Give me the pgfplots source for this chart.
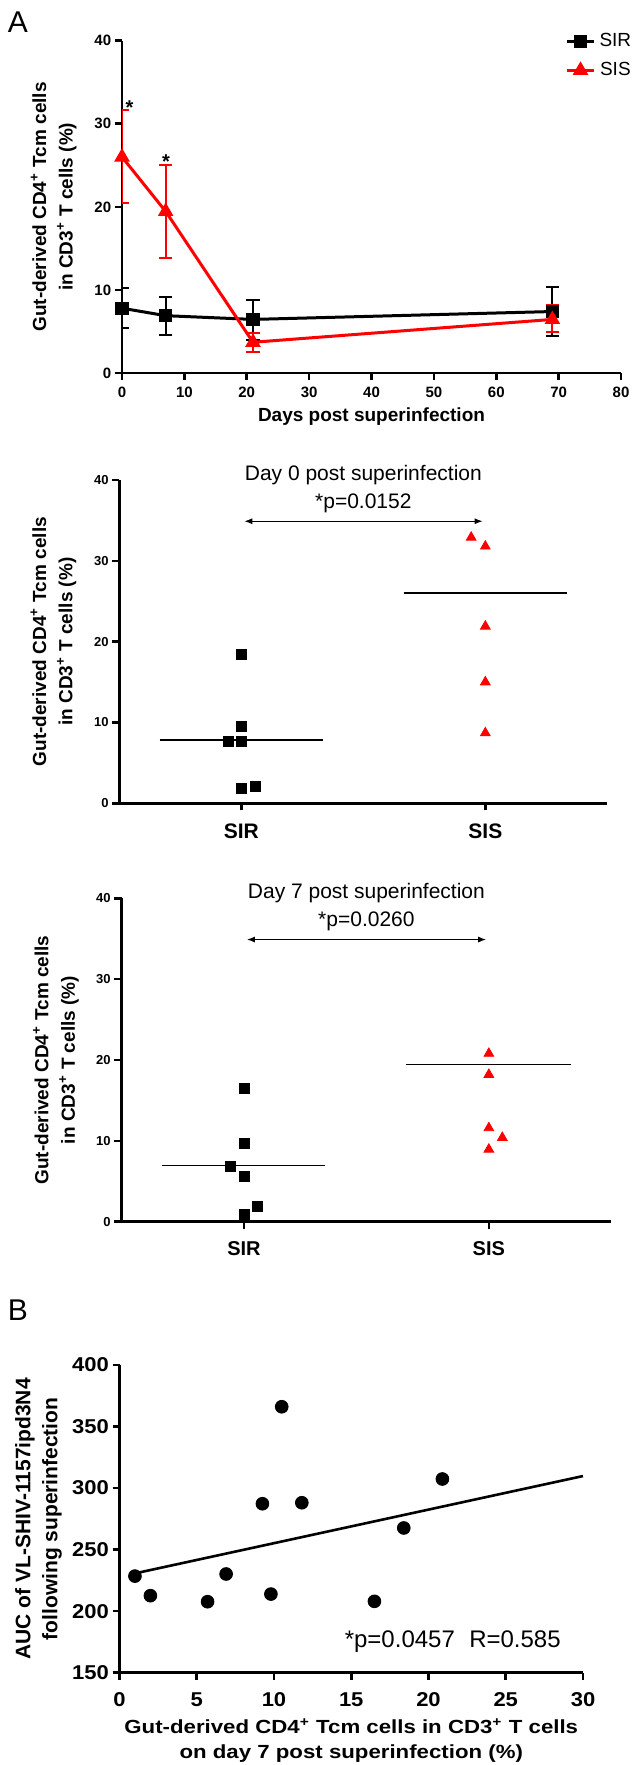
\documentclass[border=0pt]{standalone}
\usepackage{fontspec}
\setmainfont{Liberation Sans}
\usepackage{pgfplots}
\pgfplotsset{compat=1.18}
\usepackage{pgfplotstable}
\usetikzlibrary{arrows.meta}
\definecolor{sisred}{RGB}{255,0,0}

% panel A: mean with error bars (x, y, +err, -err)
\pgfplotstableread{
x  y     ep    em
0  7.8   2.4   2.4
7  6.9   2.3   2.3
21 6.45  2.35  2.45
69 7.4   3.0   2.95
}\sirtime
\pgfplotstableread{
x  y     ep    em
0  26.0  5.6   5.5
7  19.45 5.6   5.65
21 3.7   1.1   1.2
69 6.45  1.7   1.55
}\sistime

\pgfplotsset{
  prism/.style={
    scale only axis, anchor=south west,
    axis lines=left, axis line style={-, line width=1.3pt},
    every outer x axis line/.append style={-},
    every outer y axis line/.append style={-},
    tick align=outside, major tick length=3.5pt,
    tick style={line width=1.3pt, black},
    /pgf/number format/assume math mode=true,
    ticklabel style={font=\bfseries\fontsize{7.5}{7.5}\selectfont},
    yticklabel style={xshift=1.6pt},
    ylabel style={align=center, anchor=center,
                  font=\bfseries\fontsize{9.5}{13.2}\selectfont},
  },
  arr/.style={black, line width=0.6pt,
              {Latex[length=4pt,width=3pt]}-{Latex[length=4pt,width=3pt]}},
}

\begin{document}
\begin{tikzpicture}
\useasboundingbox (0,0) rectangle (317.5pt,-882.5pt);
\node[font=\fontsize{15}{15}\selectfont] at (9pt,-11pt) {A};
\node[font=\fontsize{15}{15}\selectfont] at (9pt,-655pt) {B};

% ---- A: time course
\begin{axis}[prism, at={(61pt,-186.5pt)}, width=249.5pt, height=166.15pt,
  xmin=0, xmax=80, ymin=0, ymax=40,
  xtick={0,10,...,80}, ytick={0,10,...,40},
  xticklabel style={anchor=center, yshift=-6.3pt},
  xlabel={Days post superinfection},
  xlabel style={at={(axis description cs:0.5,-0.131)}, anchor=center,
                font=\bfseries\fontsize{9.5}{9.5}\selectfont},
  ylabel={Gut-derived CD4\textsuperscript{+} Tcm cells\\in CD3\textsuperscript{+} T cells (\%)},
  ylabel style={at={(axis description cs:-0.137,0.5)}},
  legend style={at={(axis description cs:0.876,1.047)}, anchor=north west,
                draw=none, fill=none, row sep=2.2pt,
                font=\fontsize{9.5}{9.5}\selectfont},
  legend image code/.code={%
    \draw[mark repeat=2,mark phase=2,#1] plot coordinates {(0pt,0pt) (6.75pt,0pt) (13.5pt,0pt)};},
]
  \addplot[black, line width=1.5pt, mark=square*, mark size=2.6pt,
    error bars/.cd, y dir=both, y explicit,
    error bar style={line width=1pt, black},
    error mark options={rotate=90, mark size=3.3pt, line width=1pt, black}]
    table[x=x, y=y, y error plus=ep, y error minus=em]{\sirtime};
  \addlegendentry{SIR}
  \addplot[sisred, line width=1.5pt, mark=triangle*, mark size=3pt,
    error bars/.cd, y dir=both, y explicit,
    error bar style={line width=1pt, sisred},
    error mark options={rotate=90, mark size=3.3pt, line width=1pt, sisred}]
    table[x=x, y=y, y error plus=ep, y error minus=em]{\sistime};
  \addlegendentry{SIS}
  \node[font=\bfseries\fontsize{10}{10}\selectfont] at (axis cs:1.2,32.0) {*};
  \node[font=\bfseries\fontsize{10}{10}\selectfont] at (axis cs:7.05,25.4) {*};
\end{axis}

% ---- day 0 scatter
\begin{axis}[prism, at={(59.7pt,-401.65pt)}, width=243.95pt, height=161.65pt,
  clip=false, xmin=-0.5, xmax=1.5, ymin=0, ymax=40,
  xtick={0,1}, xticklabels={SIR,SIS}, ytick={0,10,...,40},
  yticklabel style={font=\bfseries\fontsize{6.5}{6.5}\selectfont},
  xticklabel style={anchor=center, yshift=-10.4pt,
                    font=\bfseries\fontsize{10.5}{10.5}\selectfont},
  ylabel={Gut-derived CD4\textsuperscript{+} Tcm cells\\in CD3\textsuperscript{+} T cells (\%)},
  ylabel style={at={(axis description cs:-0.135,0.5)}},
]
  \addplot[only marks, mark=square*, mark size=2.5pt, black] coordinates {
    (0,18.4)(0,9.5)(-0.055,7.7)(0,7.6)(0,1.8)(0.056,2.1)};
  \addplot[only marks, mark=triangle*, mark size=2.8pt, sisred] coordinates {
    (0.942,32.9)(1,31.8)(1,21.9)(1,15.0)(1,8.7)};
  \addplot[black, line width=0.9pt] coordinates {(-0.335,7.85)(0.335,7.85)};
  \addplot[black, line width=0.9pt] coordinates {(0.665,26.05)(1.335,26.05)};
  \addplot[arr] coordinates {(0.012,34.9)(0.989,34.9)};
  \node[font=\fontsize{10.5}{10.5}\selectfont] at (axis cs:0.5,40.6) {Day 0 post superinfection};
  \node[font=\fontsize{10.5}{10.5}\selectfont] at (axis cs:0.5,37.1) {*p=0.0152};
\end{axis}

% ---- day 7 scatter
\begin{axis}[prism, at={(60.75pt,-610.85pt)}, width=244.9pt, height=161.7pt,
  clip=false, xmin=-0.5, xmax=1.5, ymin=0, ymax=40,
  xtick={0,1}, xticklabels={SIR,SIS}, ytick={0,10,...,40},
  yticklabel style={font=\bfseries\fontsize{6.5}{6.5}\selectfont},
  xticklabel style={anchor=center, yshift=-9.8pt,
                    font=\bfseries\fontsize{10}{10}\selectfont},
  ylabel={Gut-derived CD4\textsuperscript{+} Tcm cells\\in CD3\textsuperscript{+} T cells (\%)},
  ylabel style={at={(axis description cs:-0.134,0.5)}},
]
  \addplot[only marks, mark=square*, mark size=2.5pt, black] coordinates {
    (0,16.5)(0,9.7)(-0.055,6.85)(0,5.6)(0.055,1.95)(0,0.9)};
  \addplot[only marks, mark=triangle*, mark size=2.8pt, sisred] coordinates {
    (1,20.8)(1,18.2)(1,11.6)(1.055,10.4)(1,8.95)};
  \addplot[black, line width=0.9pt] coordinates {(-0.336,6.95)(0.332,6.95)};
  \addplot[black, line width=0.9pt] coordinates {(0.661,19.45)(1.337,19.45)};
  \addplot[arr] coordinates {(0.012,34.9)(0.989,34.9)};
  \node[font=\fontsize{10.5}{10.5}\selectfont] at (axis cs:0.5,40.6) {Day 7 post superinfection};
  \node[font=\fontsize{10.5}{10.5}\selectfont] at (axis cs:0.5,37.1) {*p=0.0260};
\end{axis}

% ---- B: correlation
\begin{axis}[prism, at={(59.75pt,-836.35pt)}, width=231.75pt, height=153.85pt,
  clip=false, xmin=0, xmax=30, ymin=150, ymax=400,
  xtick={0,5,...,30}, ytick={150,200,...,400},
  ticklabel style={font=\bfseries\fontsize{10}{10}\selectfont, xscale=1.1},
  xticklabel style={anchor=center, yshift=-9.8pt},
  yticklabel style={xshift=0.3pt},
  xlabel={Gut-derived CD4\textsuperscript{+} Tcm cells in CD3\textsuperscript{+} T cells\\on day 7 post superinfection (\%)},
  xlabel style={at={(axis description cs:0.5,-0.22)}, anchor=center, align=center,
                font=\bfseries\fontsize{9.5}{12.5}\selectfont, xscale=1.17},
  ylabel={AUC of VL-SHIV-1157ipd3N4\\following superinfection},
  ylabel style={at={(axis description cs:-0.175,0.5)},
                font=\bfseries\fontsize{10.5}{13.5}\selectfont},
]
  \addplot[only marks, mark=*, mark size=3.2pt, black] coordinates {
    (1.0,228.5)(2.0,212.6)(5.7,207.7)(6.9,230.2)(9.25,287.3)(9.8,213.9)
    (10.5,366.1)(11.8,288.1)(16.5,208)(18.4,267.6)(20.9,307.4)};
  \addplot[black, line width=1.3pt] coordinates {(1,230.7)(30,309.8)};
  \node[font=\fontsize{12}{12}\selectfont] at (axis cs:21.57,175.2) {*p=0.0457\hspace{0.6em}R=0.585};
\end{axis}
\end{tikzpicture}
\end{document}
